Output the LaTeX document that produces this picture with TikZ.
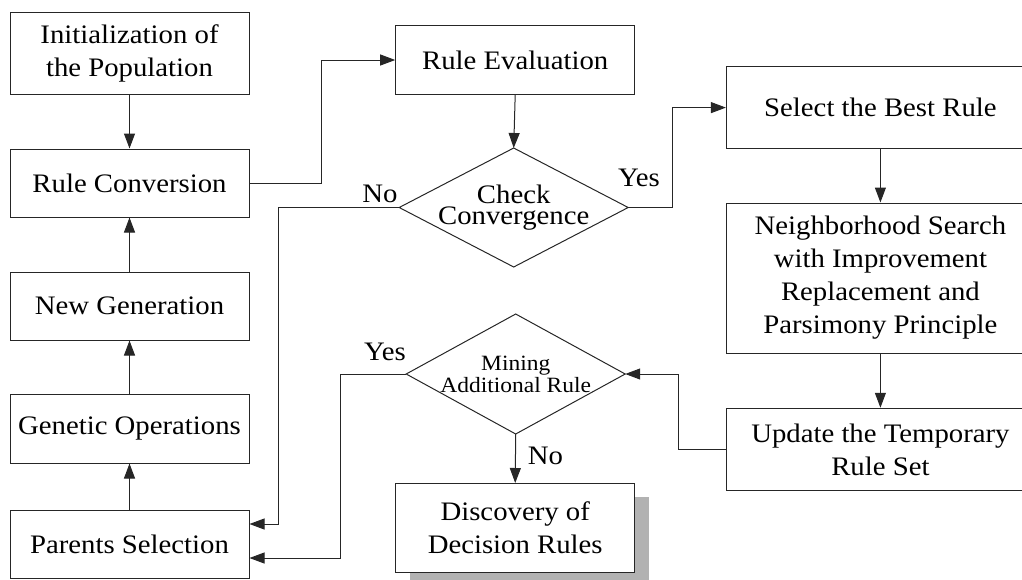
\documentclass[tikz,border=0pt]{standalone}
\usepackage{fontspec}
\setmainfont[FakeStretch=1.077]{Liberation Serif}
\usetikzlibrary{arrows.meta,shadows}
\begin{document}
\begin{tikzpicture}[x=1pt,y=-1pt,
  line width=1pt,
  box/.style={draw=black!85,fill=white,rectangle,inner sep=0pt,align=center,
    minimum width=239pt,font={\fontsize{26.7}{33}\selectfont}},
  wbox/.style={box,minimum width=308pt},
  dia/.style={rectangle,inner sep=0pt,align=center},
  lbl/.style={inner sep=0pt,font={\fontsize{26.7}{33}\selectfont}},
  arr/.style={draw=black!85,-{Triangle[length=15pt,width=11pt]}},
  ln/.style={draw=black!85}]
\useasboundingbox (0,0) rectangle (1022,579);

% left column
\node[box,minimum height=82pt] (init) at (129.5,53) {Initialization of\\the Population};
\node[box,minimum height=68pt] (rc) at (129.5,183) {Rule Conversion};
\node[box,minimum height=68pt] (ng) at (129.5,306) {New Generation};
\node[box,minimum height=69pt] (go) at (129.5,428.5) {Genetic Operations};
\node[box,minimum height=68pt] (ps) at (129.5,544) {Parents Selection};

% middle column
\node[box,minimum height=68.6pt] (re) at (515.2,60) {Rule Evaluation};
\node[dia,minimum width=228pt,minimum height=118pt,font={\fontsize{26.7}{21}\selectfont}] (check) at (513.7,207.5) {Check\\Convergence};
\draw[black!85] (check.west) -- (check.north) -- (check.east) -- (check.south) -- cycle;
\node[dia,minimum width=218pt,minimum height=119pt,font={\fontsize{21.8}{22}\selectfont}] (mine) at (515.7,374) {Mining\\Additional Rule};
\draw[black!85] (mine.west) -- (mine.north) -- (mine.east) -- (mine.south) -- cycle;
\node[box,minimum height=89pt,drop shadow={shadow xshift=14pt,shadow yshift=-13pt,fill=black!30,opacity=1}] (disc) at (515.2,528) {Discovery of\\Decision Rules};

% right column
\node[wbox,minimum height=82pt] (sel) at (880.4,107.6) {Select the Best Rule};
\node[wbox,minimum height=150pt] (nb) at (880.4,278) {Neighborhood Search\\with Improvement\\Replacement and\\Parsimony Principle};
\node[wbox,minimum height=82.5pt] (up) at (880.4,449.5) {Update the Temporary\\Rule Set};

% labels
\node[lbl] (no1) at (380,193.5) {No};
\node[lbl] (yes1) at (639,177.5) {Yes};
\node[lbl] (yes2) at (385,352) {Yes};
\node[lbl] (no2) at (545.5,456) {No};

% connectors
\draw[arr] (init.south) -- (rc.north);
\draw[arr] (ng.north) -- (rc.south);
\draw[arr] (go.north) -- (ng.south);
\draw[arr] (ps.north) -- (go.south);
\draw[arr] (rc.east) -- ++(72,0) |- (re.west);
\draw[arr] (re.south) -- (check.north);
\draw[arr] (check.west) -- ++(-120.7,0) |- ([yshift=20pt]ps.east);
\draw[arr] (mine.west) -- ++(-65.6,0) |- ([yshift=-14pt]ps.east);
\draw[arr] (check.east) -- ++(44.3,0) |- (sel.west);
\draw[arr] (sel.south) -- (nb.north);
\draw[arr] (nb.south) -- (up.north);
\draw[arr] (up.west) -- ++(-47.4,0) |- (mine.east);
\draw[arr] (mine.south) -- (disc.north);
\end{tikzpicture}
\end{document}
